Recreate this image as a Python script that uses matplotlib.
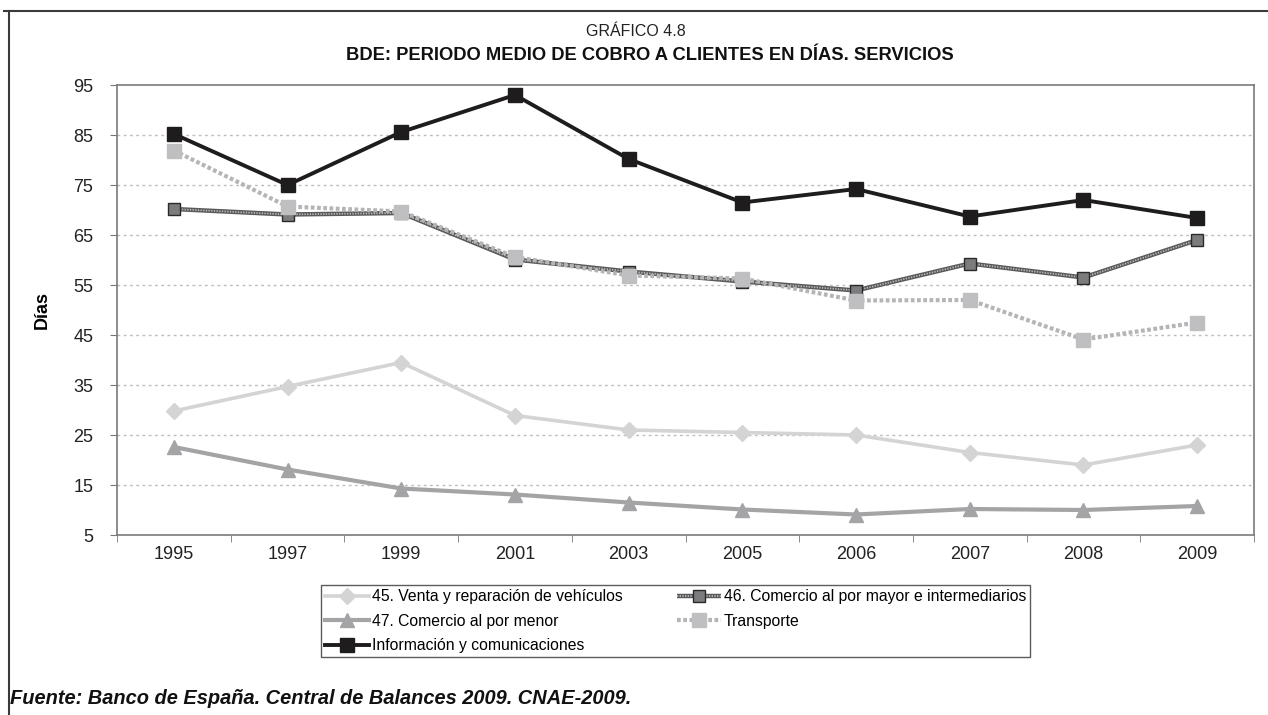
import matplotlib
matplotlib.use("Agg")
import matplotlib.pyplot as plt
from matplotlib.lines import Line2D
from matplotlib.legend_handler import HandlerTuple
import numpy as np

plt.rcParams['font.family'] = ['Liberation Sans', 'DejaVu Sans']

years = ["1995", "1997", "1999", "2001", "2003", "2005", "2006", "2007", "2008", "2009"]

venta_vehiculos = [29.8, 34.7, 39.5, 28.9, 26.0, 25.5, 25.0, 21.5, 19.0, 23.0]
comercio_mayor = [70.2, 69.1, 69.4, 60.1, 57.7, 55.7, 53.9, 59.3, 56.5, 64.0]
comercio_menor = [22.6, 18.1, 14.3, 13.1, 11.5, 10.1, 9.1, 10.2, 10.0, 10.8]
transporte = [81.9, 70.7, 69.7, 60.6, 56.9, 56.3, 51.9, 52.0, 44.1, 47.5]
informacion = [85.2, 75.0, 85.6, 93.0, 80.2, 71.5, 74.2, 68.7, 72.0, 68.4]

y_ticks = [5, 15, 25, 35, 45, 55, 65, 75, 85, 95]

labels = ["45. Venta y reparación de vehículos",
          "46. Comercio al por mayor e intermediarios",
          "47. Comercio al por menor",
          "Transporte",
          "Información y comunicaciones"]

fig = plt.figure(figsize=(12.68, 7.15), dpi=100)
ax = fig.add_axes([117 / 1268, 1 - 535 / 715, (1254 - 117) / 1268, (535 - 85) / 715])

x = np.arange(len(years))

l_venta, = ax.plot(x, venta_vehiculos, color='#d4d4d4', lw=2.6, marker='D',
                   ms=8.5, mfc='#d4d4d4', mec='#d4d4d4', zorder=3)
l_menor, = ax.plot(x, comercio_menor, color='#a4a4a6', lw=3.0, marker='^',
                   ms=10.5, mfc='#a4a4a6', mec='#a4a4a6', zorder=3)

# textured wholesale line: dark base with a light broken overlay
l_mayor_base, = ax.plot(x, comercio_mayor, color='#5a5a5a', lw=3.2, zorder=4,
                        solid_capstyle='butt')
l_mayor_top, = ax.plot(x, comercio_mayor, color='#bdbdbd', lw=1.2, zorder=4,
                       dashes=(0.8, 0.8))
l_mayor_mk, = ax.plot(x, comercio_mayor, ls='none', marker='s', ms=8.5,
                      mfc='#7c7c7e', mec='#2a2a2a', mew=1.0, zorder=4)

l_trans, = ax.plot(x, transporte, color='#b5b5b8', lw=3.0, dashes=(0.9, 0.6),
                   marker='s', ms=10, mfc='#bfbfc2', mec='#bfbfc2', zorder=5)
l_info, = ax.plot(x, informacion, color='#1e1c1d', lw=2.8, marker='s', ms=10,
                  mfc='#1e1c1d', mec='#1e1c1d', zorder=6)

ax.set_xlim(-0.5, len(years) - 0.5)
ax.set_ylim(5, 95)
ax.set_yticks(y_ticks)
ax.set_yticklabels([str(v) for v in y_ticks], fontsize=13, color='#222222')
ax.set_xticks(x)
ax.set_xticklabels(years, fontsize=13, color='#222222')
ax.tick_params(axis='x', which='major', length=0, pad=8)
ax.set_xticks(np.arange(-0.5, len(years)), minor=True)
ax.tick_params(axis='x', which='minor', length=5, color='#777777', direction='out')
ax.tick_params(axis='y', length=5, color='#777777', direction='out', pad=12)

for v in y_ticks[1:-1]:
    ax.axhline(v, color='#bdbdbd', lw=1.0, ls=(0, (2, 2.5)), zorder=1)

for s in ax.spines.values():
    s.set_color('#7a7a7a')
    s.set_linewidth(1.2)

ax.set_ylabel("Días", fontsize=13, fontweight='bold', labelpad=16)

fig.text(636 / 1268, 1 - 31 / 715, "GRÁFICO 4.8", ha='center', va='center',
         fontsize=11.5, color='#222222')
fig.text(650 / 1268, 1 - 56 / 715,
         "BDE: PERIODO MEDIO DE COBRO A CLIENTES EN DÍAS. SERVICIOS",
         ha='center', va='center', fontsize=13.2, fontweight='bold', color='#111111')

fig.text(10 / 1268, 1 - 698 / 715,
         "Fuente: Banco de España. Central de Balances 2009. CNAE-2009.",
         ha='left', va='center', fontsize=14.4, fontweight='bold', style='italic',
         color='#111111')

# outer frame (top and left edges)
fig.add_artist(Line2D([4 / 1268, 1], [1 - 11 / 715, 1 - 11 / 715],
                      transform=fig.transFigure, color='#3a3a3a', lw=1.5))
fig.add_artist(Line2D([9 / 1268, 9 / 1268], [0, 1 - 11 / 715],
                      transform=fig.transFigure, color='#3a3a3a', lw=1.5))

handles = [l_venta, l_menor, l_info, (l_mayor_base, l_mayor_top, l_mayor_mk), l_trans]
hlabels = [labels[0], labels[2], labels[4], labels[1], labels[3]]
leg = fig.legend(handles, hlabels, ncol=2, loc='lower left',
                 bbox_to_anchor=(321 / 1268, 1 - 657 / 715, (1030 - 321) / 1268, 80 / 715),
                 mode='expand', fontsize=11.3, frameon=True, fancybox=False,
                 edgecolor='#333333', handlelength=2.8, handletextpad=0.2,
                 borderpad=0.25, labelspacing=0.6, borderaxespad=0,
                 handler_map={tuple: HandlerTuple(ndivide=1)})
leg.get_frame().set_linewidth(1.0)

fig.savefig("out.png", dpi=100, facecolor='white')
